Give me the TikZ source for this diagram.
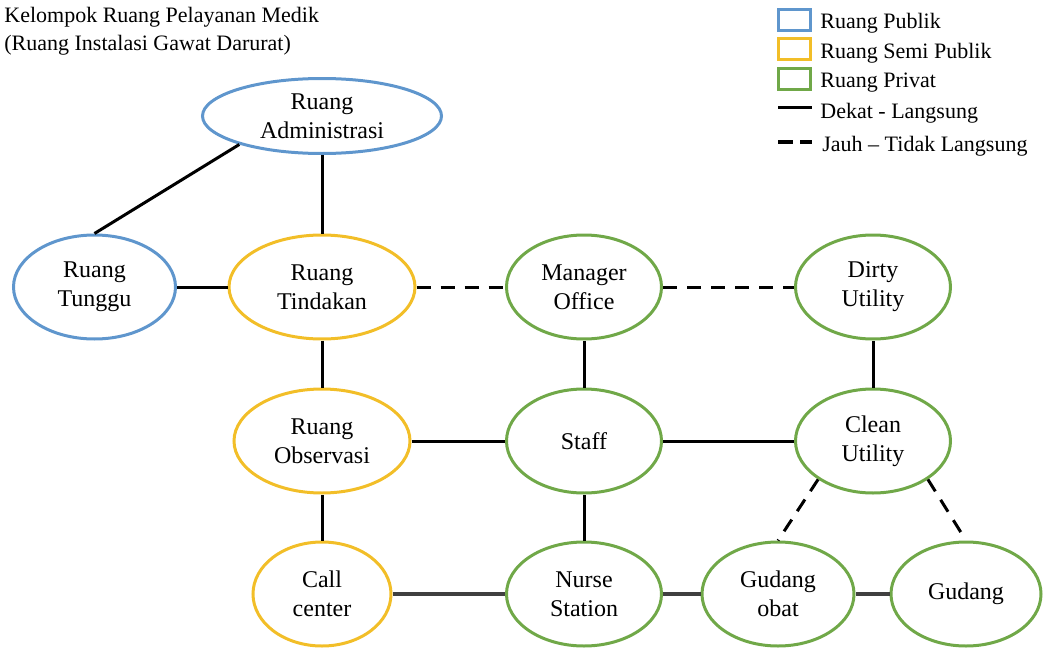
\documentclass[tikz,border=0pt]{standalone}
\usepackage{fontspec}
\setmainfont{Liberation Serif}
\usepackage{tikz}
\usetikzlibrary{shapes.geometric,positioning}
\definecolor{pubblue}{RGB}{95,150,205}
\definecolor{semigold}{RGB}{242,190,40}
\definecolor{privgreen}{RGB}{112,168,72}

\begin{document}
\begin{tikzpicture}[
    x=0.5pt, y=-0.5pt,
    node distance=77pt,
    font=\fontsize{12}{14.5}\selectfont,
    room/.style={
		ellipse,
		line width=1.5pt,
		inner sep=0pt,
		align=center,
		minimum height=52pt
	},
	publik/.style={room, draw=pubblue},
	semi/.style={room, draw=semigold},
	privat/.style={room, draw=privgreen},
	dekat/.style={line width=1.5pt},
	bawah/.style={line width=1.7pt, draw=black!75},
	jauh/.style={line width=1.5pt, dash pattern=on 7pt off 5pt},
	legbox/.style={
		rectangle,
		line width=1.5pt,
		minimum width=16pt,
		minimum height=10.5pt,
		inner sep=0pt
	},
	legtext/.style={
		font=\fontsize{11}{14}\selectfont,
		inner sep=0pt,
		anchor=base west
	}
  ]
  \useasboundingbox (0,0) rectangle (1045,648);

  % title and legend
  \node [legtext, anchor=north west, align=left] (judul) at (4,7)
  {Kelompok Ruang Pelayanan Medik\\(Ruang Instalasi Gawat Darurat)};

  \node [legbox, draw=pubblue] (lpub) at (794.5,20) {};
  \node [legbox, draw=semigold, below of=lpub, node distance=14.25pt] (lsemi) {};
  \node [legbox, draw=privgreen, below of=lsemi, node distance=15.25pt] (lpriv) {};
  \node [legtext] (tpub) at (820,28) {Ruang Publik};
  \node [legtext] (tsemi) at (820,58) {Ruang Semi Publik};
  \node [legtext] (tpriv) at (820,87) {Ruang Privat};
  \node [legtext] (tdekat) at (820,118) {Dekat - Langsung};
  \node [legtext] (tjauh) at (822,151) {Jauh -- Tidak Langsung};
  \coordinate (ld1) at (778,107);
  \coordinate (ld2) at (812,107);
  \coordinate (lj1) at (778,142);
  \coordinate (lj2) at (812,142);
  \draw [dekat] (ld1) -- (ld2);
  \draw [line width=1.6pt, dash pattern=on 7.5pt off 3.5pt] (lj1) -- (lj2);

  % We start by placing the rooms
  \node [publik, minimum width=119.5pt, minimum height=37.5pt] (admin) at (322,116)
  {Ruang\\Administrasi};
  \node [semi, minimum width=93pt, below of=admin, node distance=85.5pt] (tindakan)
  {Ruang\\Tindakan};
  \node [publik, minimum width=81pt, left of=tindakan, node distance=113.75pt] (tunggu)
  {Ruang\\Tunggu};
  \node [privat, minimum width=77.5pt, right of=tindakan, node distance=131pt] (manager)
  {Manager\\Office};
  \node [privat, minimum width=77.5pt, right of=manager, node distance=144.5pt] (dirty)
  {Dirty\\Utility};

  \node [semi, minimum width=88pt, below of=tindakan] (observasi)
  {Ruang\\Observasi};
  \node [privat, minimum width=77.5pt, below of=manager] (staff) {Staff};
  \node [privat, minimum width=77.5pt, below of=dirty] (clean)
  {Clean\\Utility};

  \node [semi, minimum width=69pt, below of=observasi, node distance=76.5pt] (call)
  {Call\\center};
  \node [privat, minimum width=77.5pt, below of=staff, node distance=76.5pt] (nurse)
  {Nurse\\Station};
  \node [privat, minimum width=76pt, right of=nurse, node distance=97pt] (gobat)
  {Gudang\\obat};
  \node [privat, minimum width=75pt, right of=gobat, node distance=94pt] (gudang)
  {Gudang};

  % connections
  \draw [dekat] (admin.199) -- (tunggu.north);
  \draw [dekat] (admin) -- (tindakan);
  \draw [dekat] (tunggu) -- (tindakan);
  \draw [dekat] (tindakan) -- (observasi);
  \draw [dekat] (observasi) -- (call);
  \draw [dekat] (observasi) -- (staff);
  \draw [dekat] (manager) -- (staff);
  \draw [dekat] (staff) -- (clean);
  \draw [dekat] (dirty) -- (clean);
  \draw [dekat] (staff) -- (nurse);
  \draw [bawah] (call) -- (nurse);
  \draw [bawah] (nurse) -- (gobat);
  \draw [bawah] (gobat) -- (gudang);

  \draw [jauh] (tindakan) -- (manager);
  \draw [jauh] (manager) -- (dirty);
  \draw [jauh] (clean.215) -- (gobat.north);
  \draw [jauh] (clean.325) -- (gudang.north);

\end{tikzpicture}
\end{document}
